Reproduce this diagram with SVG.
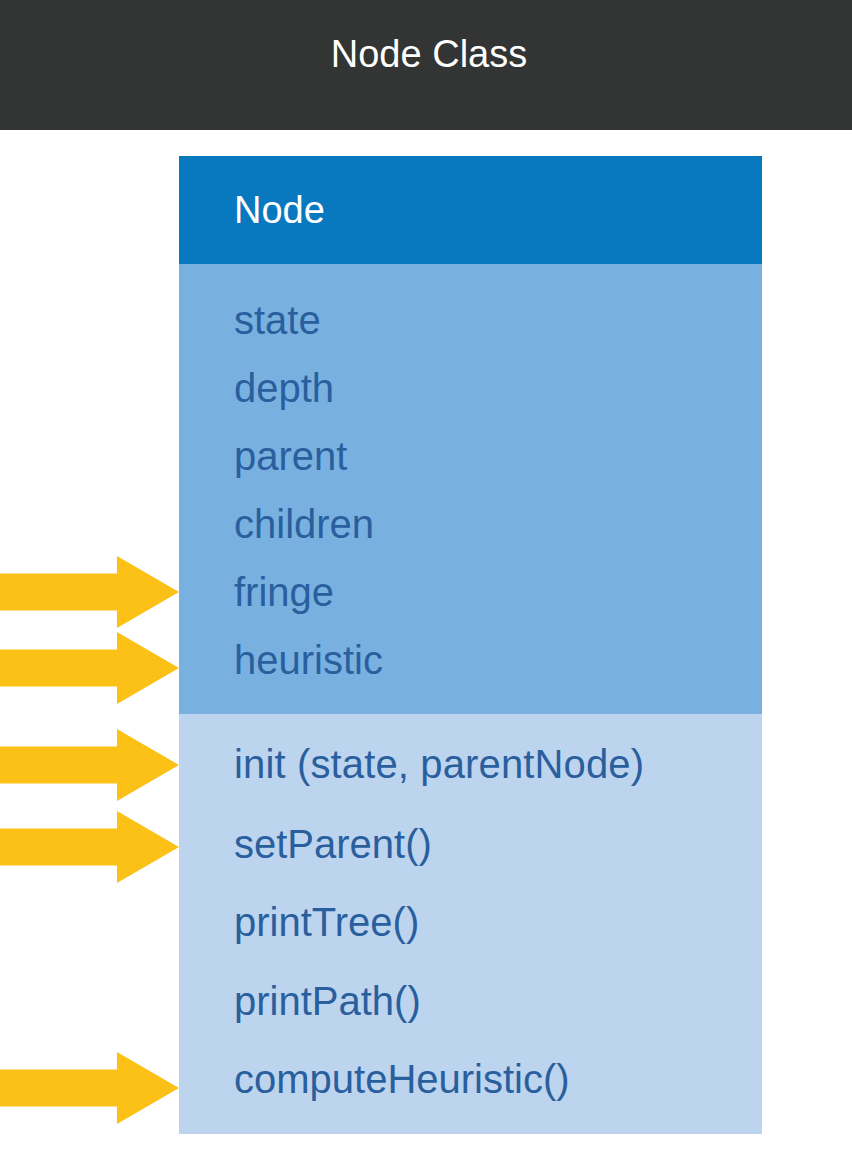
<svg xmlns="http://www.w3.org/2000/svg" width="852" height="1155" viewBox="0 0 852 1155">
<style>
.t{font-family:"Liberation Sans",Arial,sans-serif;font-size:40px;fill:#2A5F9E}
.w{font-family:"Liberation Sans",Arial,sans-serif;fill:#FFFFFF}
.arr{fill:#FBC117}
</style>
<defs>
<polygon id="arrow" points="0,-18.5 117,-18.5 117,-36 179,0 117,36 117,18.5 0,18.5"/>
</defs>
<rect x="0" y="0" width="852" height="1155" fill="#FFFFFF"/>
<g id="title">
<rect x="0" y="0" width="852" height="130" fill="#333434"/>
<text class="w" x="429" y="67" font-size="38" text-anchor="middle">Node Class</text>
</g>
<g id="node-class">
<rect x="179" y="156" width="583" height="108" fill="#0878BF"/>
<rect x="179" y="264" width="583" height="450" fill="#78B1E0"/>
<rect x="179" y="714" width="583" height="420" fill="#BDD4EE"/>
<text class="w" x="234" y="223" font-size="38">Node</text>
<text class="t" x="234" y="334">state</text>
<text class="t" x="234" y="402">depth</text>
<text class="t" x="234" y="470">parent</text>
<text class="t" x="234" y="538">children</text>
<text class="t" x="234" y="606">fringe</text>
<text class="t" x="234" y="674">heuristic</text>
<text class="t" x="234" y="778" textLength="410">init (state, parentNode)</text>
<text class="t" x="234" y="858">setParent()</text>
<text class="t" x="234" y="936">printTree()</text>
<text class="t" x="234" y="1015">printPath()</text>
<text class="t" x="234" y="1093">computeHeuristic()</text>
</g>
<g id="connectors" class="arr">
<use href="#arrow" x="0" y="592"/>
<use href="#arrow" x="0" y="668"/>
<use href="#arrow" x="0" y="765"/>
<use href="#arrow" x="0" y="847"/>
<use href="#arrow" x="0" y="1088"/>
</g>
</svg>
